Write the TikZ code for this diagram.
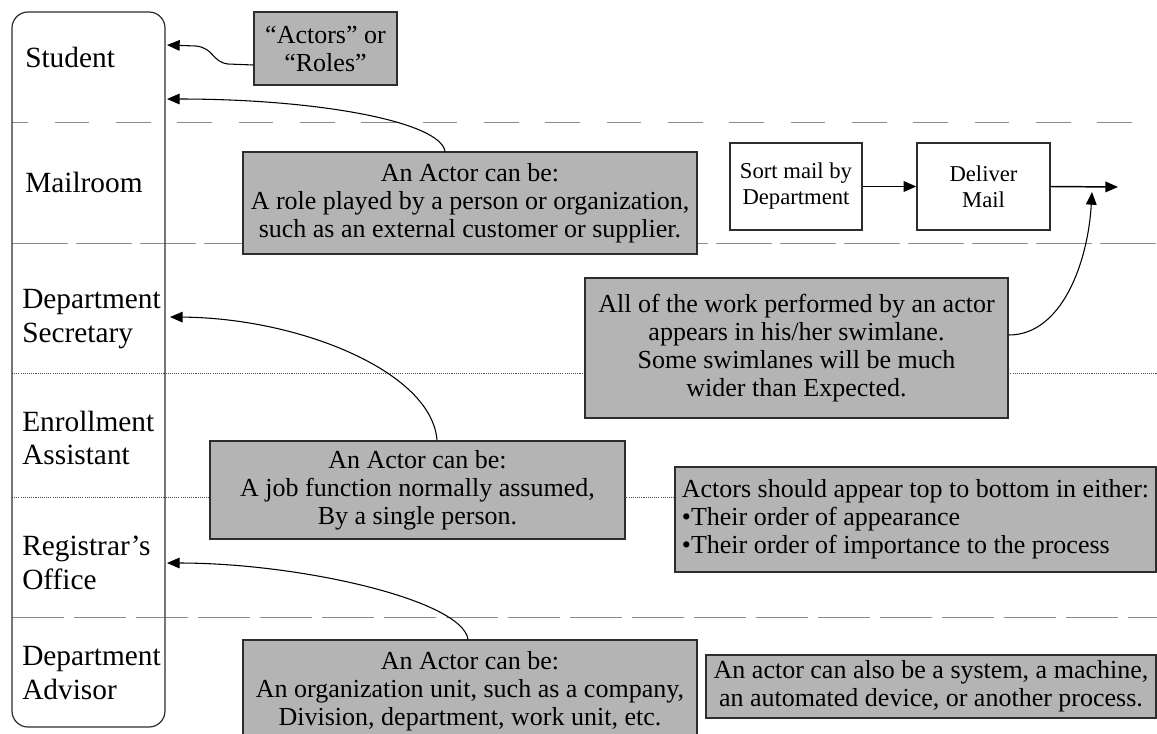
\documentclass[tikz,border=0pt]{standalone}
\usepackage{fontspec}
\setmainfont{Liberation Serif}
\usetikzlibrary{arrows.meta,calc}
\definecolor{notegray}{RGB}{180,180,180}
\definecolor{edgegray}{RGB}{45,45,45}
\tikzset{
  lanebox/.style={draw=edgegray, line width=0.9pt, rounded corners=12pt, inner sep=0pt},
  lanelabel/.style={anchor=west, align=left, inner sep=0pt, font=\fontsize{22}{25}\selectfont},
  note/.style={draw=edgegray, line width=1.1pt, fill=notegray, align=center, inner sep=0pt,
    font=\fontsize{19.5}{21}\selectfont},
  stepbox/.style={draw=edgegray, line width=1.1pt, fill=white, align=center, inner sep=0pt,
    font=\fontsize{17}{19.5}\selectfont},
  rulewide/.style={draw=black!45, line width=0.6pt, dash pattern=on 26pt off 20pt, dash phase=14pt},
  rulelong/.style={draw=black!45, line width=0.6pt, dash pattern=on 42pt off 6pt},
  rulemid/.style={draw=black!45, line width=0.6pt, dash pattern=on 39pt off 7.5pt},
  ruledot/.style={draw=black!70, line width=0.7pt, dash pattern=on 0.8pt off 0.8pt},
  pointer/.style={draw=black, line width=0.8pt, -{Triangle[length=9.5pt,width=8pt]}},
  flow/.style={draw=black, line width=1.1pt, -{Triangle[length=9.5pt,width=8pt]}},
}
\begin{document}
\begin{tikzpicture}[x=0.75pt,y=-0.75pt]
\clip (0,0) rectangle (1157,733);
\fill[white] (0,0) rectangle (1157,733);

% lane separators
\draw[rulewide] (12,122) -- (1157,122);
\draw[rulelong] (12,243) -- (1157,243);
\draw[ruledot]  (12,373) -- (1157,373);
\draw[ruledot]  (12,497) -- (1157,497);
\draw[rulemid]  (12,617) -- (1157,617);

% actor column
\node[lanebox, minimum width=114.75pt, minimum height=536.25pt] (lanes) at (88.5,369.5) {};
\node[lanelabel] (student)   at (25,57)  {Student};
\node[lanelabel] (mailroom)  at (25,182) {Mailroom};
\node[lanelabel] (deptSec)   at (22,319) {Department\\Secretary};
\node[lanelabel] (enroll)    at (22,438) {Enrollment\\Assistant};
\node[lanelabel] (registrar) at (22,563) {Registrar’s\\Office};
\node[lanelabel] (deptAdv)   at (22,673) {Department\\Advisor};

% notes
\node[note, minimum width=107.25pt, minimum height=54.75pt] (roles) at (325.5,48.5)
  {“Actors” or\\“Roles”};
\node[note, minimum width=340.5pt, minimum height=76.5pt] (roleNote) at (470,203)
  {An Actor can be:\\A role played by a person or organization,\\such as an external customer or supplier.};
\node[note, minimum width=317.25pt, minimum height=105pt] (workNote) at (796.5,348)
  {All of the work performed by an actor\\appears in his/her swimlane.\\Some swimlanes will be much\\wider than Expected.};
\node[note, minimum width=311.25pt, minimum height=73.5pt] (jobNote) at (417.5,490)
  {An Actor can be:\\A job function normally assumed,\\By a single person.};
\node[note, align=left, minimum width=360.75pt, minimum height=78.75pt] (orderNote) at (915.5,519.5)
  {Actors should appear top to bottom in either:\\•Their order of appearance\\•Their order of importance to the process};
\node[note, minimum width=340.5pt, minimum height=76.5pt] (unitNote) at (470,691)
  {An Actor can be:\\An organization unit, such as a company,\\Division, department, work unit, etc.};
\node[note, minimum width=337.5pt, minimum height=47.25pt] (systemNote) at (931,686.5)
  {An actor can also be a system, a machine,\\an automated device, or another process.};

% process steps in the mailroom lane
\node[stepbox, minimum width=99pt, minimum height=65.25pt] (sortMail) at (796,186.5)
  {Sort mail by\\Department};
\node[stepbox, minimum width=99.75pt, minimum height=65.25pt] (deliverMail) at (983.5,186.5)
  {Deliver\\Mail};
\coordinate (flowEnd) at (1118,187);
\draw[flow] (sortMail.east) -- (deliverMail.west);
\draw[flow] (deliverMail.east) -- (flowEnd);

% pointers to the actors
\coordinate (tipStudent)   at (167,45);
\coordinate (tipStudentLo) at (167,99);
\coordinate (tipSecretary) at (170,317);
\coordinate (tipRegistrar) at (167,563);
\coordinate (tipFlow)      at (1092,192);

\draw[pointer] ($(roles.west)+(0,16.5)$) -- (228,64)
  .. controls (212,62) and (214,48) .. (196,46) -- (tipStudent);
\draw[pointer] ($(roleNote.north)+(-25,0)$) .. controls (440,122) and (320,99) .. (tipStudentLo);
\draw[pointer] ($(jobNote.north)+(19.5,0)$) .. controls (432,372) and (300,318) .. (tipSecretary);
\draw[pointer] ($(unitNote.north)+(-2,0)$) .. controls (462,600) and (300,563) .. (tipRegistrar);
\draw[pointer] ($(workNote.east)+(0,-13)$) .. controls (1062,335) and (1088,262) .. (tipFlow);
\end{tikzpicture}
\end{document}
